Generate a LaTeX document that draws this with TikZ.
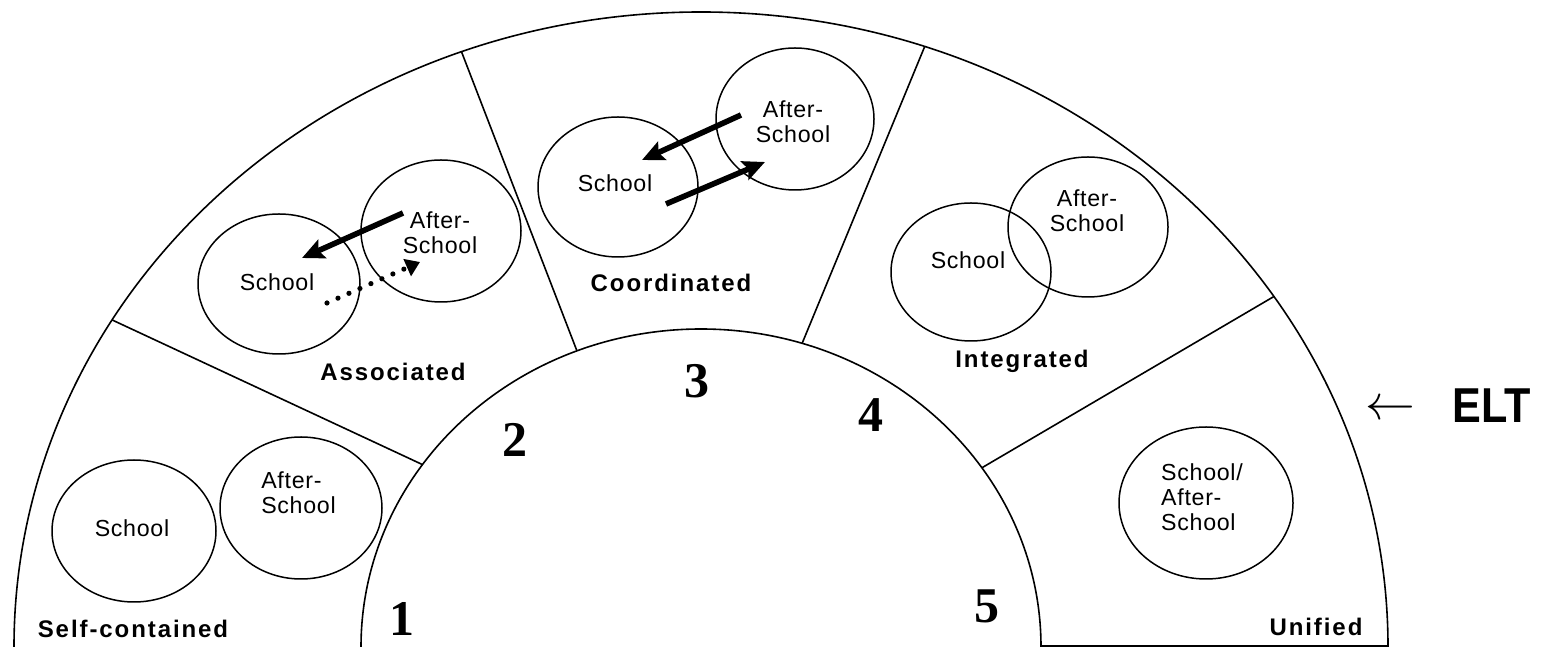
\documentclass[tikz,border=0pt]{standalone}
\usepackage{fontspec}
\usepackage{graphicx}
\setmainfont{Liberation Sans}
\newfontfamily\circfont[LetterSpace=3]{Liberation Sans}
\newfontfamily\lblfont[LetterSpace=8]{Liberation Sans}
\newfontfamily\numfont{Liberation Serif}
\usetikzlibrary{arrows.meta,shapes.geometric}
\begin{document}
\begin{tikzpicture}[x=0.5pt,y=0.5pt,
  arcline/.style={line width=0.8pt},
  blob/.style={draw, ellipse, line width=0.75pt, inner sep=0pt},
  ctext/.style={font=\circfont\fontsize{11.6}{12.6}\selectfont, inner sep=0pt, align=center},
  lbl/.style={font=\lblfont\bfseries\fontsize{12}{13}\selectfont, inner sep=0pt, anchor=base},
  num/.style={font=\numfont\bfseries\fontsize{25}{25}\selectfont, inner sep=0pt, anchor=base},
  flow/.style={line width=2.8pt, -{Stealth[length=11pt,width=10pt,inset=2pt]}},
  weak/.style={line width=2.6pt, line cap=round, dash pattern=on 0pt off 6pt, -{Triangle[length=7pt,width=9pt]}},
]
\useasboundingbox (0,0) rectangle (1547,647);

% half annulus
\coordinate (C) at (701,0);
\coordinate (oL) at ([shift={(C)}]180:343.5pt and 317.5pt);
\coordinate (iL) at ([shift={(C)}]180:170pt and 159pt);
\draw[arcline] (oL) arc[start angle=180,end angle=0,x radius=343.5pt,y radius=317.5pt];
\draw[arcline] (iL) arc[start angle=180,end angle=0,x radius=170pt,y radius=159pt];

% dividers
\coordinate (o12) at ([shift={(C)}]149:343.5pt and 317.5pt);
\coordinate (i12) at ([shift={(C)}]145:170pt and 159pt);
\coordinate (o23) at ([shift={(C)}]110.4:343.5pt and 317.5pt);
\coordinate (i23) at ([shift={(C)}]111.4:170pt and 159pt);
\coordinate (o34) at ([shift={(C)}]71:343.5pt and 317.5pt);
\coordinate (i34) at ([shift={(C)}]72.7:170pt and 159pt);
\coordinate (o45) at ([shift={(C)}]33.5:343.5pt and 317.5pt);
\coordinate (i45) at ([shift={(C)}]34.3:170pt and 159pt);
\coordinate (o0) at ([shift={(C)}]0:343.5pt and 317.5pt);
\coordinate (i0) at ([shift={(C)}]0:170pt and 159pt);
\draw[arcline] (o12) -- (i12);
\draw[arcline] (o23) -- (i23);
\draw[arcline] (o34) -- (i34);
\draw[arcline] (o45) -- (i45);
\draw[arcline] ([yshift=0.4pt]i0) -- ([yshift=0.4pt]o0);

% circles
\node[blob, minimum width=82pt, minimum height=71pt] (c1s) at (134,116) {};
\node[blob, minimum width=81pt, minimum height=71pt] (c1a) at (301,139) {};
\node[blob, minimum width=81pt, minimum height=70pt] (c2s) at (279,363) {};
\node[blob, minimum width=80pt, minimum height=71pt] (c2a) at (441,416) {};
\node[blob, minimum width=80pt, minimum height=70pt] (c3s) at (618,460) {};
\node[blob, minimum width=79pt, minimum height=71pt] (c3a) at (795,528) {};
\node[blob, minimum width=80pt, minimum height=69pt] (c4s) at (971,375) {};
\node[blob, minimum width=80pt, minimum height=70pt] (c4a) at (1088,420) {};
\node[blob, minimum width=87pt, minimum height=76pt] (c5) at (1206,144) {};

% circle texts
\node[ctext] (t1s) at (132,119) {School};
\node[ctext, align=left] (t1a) at (298.5,154) {After-\\School};
\node[ctext] (t2s) at (277,365) {School};
\node[ctext] (t2a) at (440,414) {After-\\School};
\node[ctext] (t3s) at (615,464) {School};
\node[ctext] (t3a) at (793,525) {After-\\School};
\node[ctext] (t4s) at (968,387) {School};
\node[ctext] (t4a) at (1087,436) {After-\\School};
\node[ctext, align=left] (t5) at (1202,149.5) {School/\\After-\\School};

% arrows
\coordinate (a2s) at (403,434); \coordinate (a2e) at (302,389);
\coordinate (b2s) at (327,344); \coordinate (b2e) at (420,385);
\coordinate (a3s) at (741,532); \coordinate (a3e) at (642,487);
\coordinate (b3s) at (666,443); \coordinate (b3e) at (765,485);
\draw[flow] (a2s) -- (a2e);
\draw[weak] (b2s) -- (b2e);
\draw[flow] (a3s) -- (a3e);
\draw[flow] (b3s) -- (b3e);

% stage labels
\node[lbl] (l1) at (133,9.7) {Self-contained};
\node[lbl] (l2) at (393,266) {Associated};
\node[lbl] (l3) at (671,355) {Coordinated};
\node[lbl] (l4) at (1022,279) {Integrated};
\node[lbl] (l5) at (1316,11) {Unified};

% numbers
\node[num] (n1) at (402,11) {1};
\node[num] (n2) at (515,190) {2};
\node[num] (n3) at (697,249) {3};
\node[num] (n4) at (871,215) {4};
\node[num] (n5) at (987,24) {5};

% ELT
\node[inner sep=0pt, font=\fontsize{24}{24}\selectfont] (larr) at (1390,237) {$\leftarrow$};
\node[inner sep=0pt, font=\bfseries\fontsize{24.5}{25}\selectfont] (elt) at (1492,241.5) {\scalebox{0.88}[1]{ELT}};
\end{tikzpicture}
\end{document}
